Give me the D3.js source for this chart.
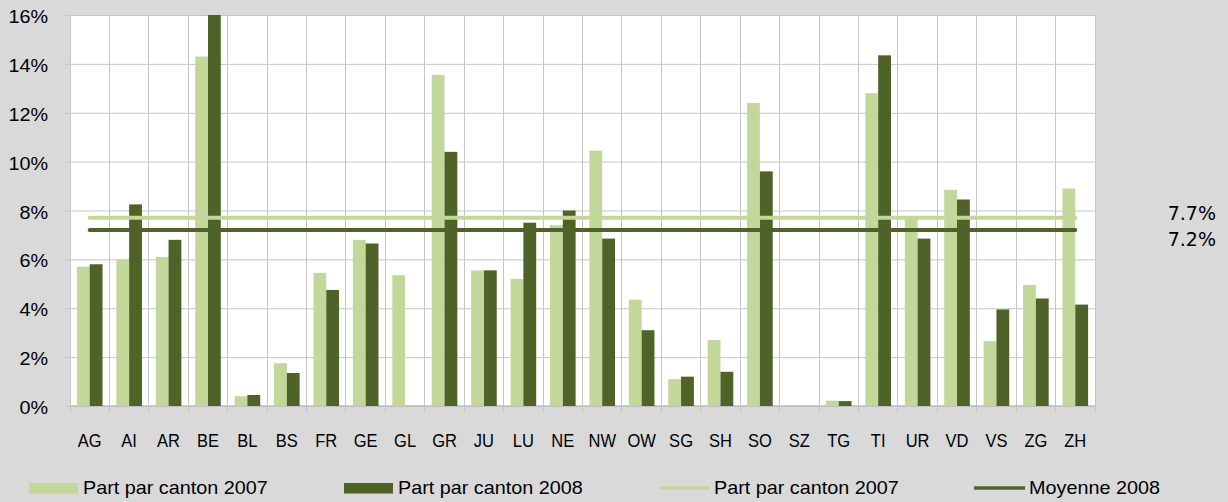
<!DOCTYPE html>
<html>
<head>
<meta charset="utf-8">
<script src="https://cdn.jsdelivr.net/npm/d3@7"></script>
<style>
  html, body { margin: 0; padding: 0; background: #d9d9d9; }
  svg { display: block; }
</style>
</head>
<body>
<svg id="chart" width="1228" height="502"></svg>
<script>
const categories = ["AG","AI","AR","BE","BL","BS","FR","GE","GL","GR","JU","LU","NE","NW","OW","SG","SH","SO","SZ","TG","TI","UR","VD","VS","ZG","ZH"];
const share2007 = [5.7,6.0,6.1,14.3,0.4,1.75,5.45,6.8,5.35,13.55,5.55,5.2,7.4,10.45,4.35,1.1,2.7,12.4,0,0.22,12.8,7.7,8.85,2.65,4.95,8.9];
const share2008 = [5.8,8.25,6.8,16.0,0.45,1.35,4.75,6.65,0,10.4,5.55,7.5,8.0,6.85,3.1,1.2,1.4,9.6,0,0.2,14.35,6.85,8.45,3.95,4.4,4.15];
const mean2007 = 7.7;
const mean2008 = 7.2;
const yTicks = [0,2,4,6,8,10,12,14,16];
const legendLabels = ["Part par canton 2007","Part par canton 2008","Part par canton 2007","Moyenne 2008"];
const meanLabels = ["7.7%","7.2%"];

const C_LIGHT = "#c4d79b", C_DARK = "#4f6228", GRID = "#c6c6c6";
const L = 70, R = 1095, T = 15, B = 406;
const svg = d3.select("#chart");

const x = d3.scaleBand().domain(categories).range([L, R]).paddingInner(0.35).paddingOuter(0.175);
const y = d3.scaleLinear().domain([0, 16]).range([B, T]);
const bw = x.bandwidth();
const step = x.step();

// plot background
svg.append("rect").attr("x", L).attr("y", T).attr("width", R - L).attr("height", B - T).attr("fill", "#fff");

// horizontal gridlines + y labels via axis
const yAxis = svg.append("g").attr("transform", `translate(${L},0)`)
  .call(d3.axisLeft(y).tickValues(yTicks).tickSize(-(R - L)).tickFormat(d => d + "%"));
yAxis.select(".domain").remove();
yAxis.selectAll("line").attr("x1", -5).attr("stroke", GRID).attr("stroke-width", 1);
yAxis.selectAll("text")
  .attr("x", 0).attr("dy", null).attr("dominant-baseline", null)
  .attr("transform", "translate(-22,7.5) scale(1.1,1)")
  .attr("text-anchor", "end")
  .style("font-family", "'Liberation Sans', Arial, sans-serif")
  .style("font-size", "18px").attr("fill", "#000");

// vertical gridlines at category boundaries (with ticks below axis)
const bounds = categories.map(c => x(c) + bw / 2 - step / 2).concat([x(categories[categories.length - 1]) + bw / 2 + step / 2]);
svg.append("g").selectAll("line").data(bounds).join("line")
  .attr("x1", d => d).attr("x2", d => d).attr("y1", T).attr("y2", B + 7)
  .attr("stroke", GRID).attr("stroke-width", 1).attr("shape-rendering", "crispEdges");
// top and baseline
svg.append("line").attr("x1", L).attr("x2", R).attr("y1", B).attr("y2", B).attr("stroke", "#bdbdbd").attr("stroke-width", 1.5);

// bars
const g = svg.append("g");
g.selectAll("rect.b07").data(categories).join("rect").attr("class", "b07")
  .attr("x", c => x(c)).attr("width", bw / 2)
  .attr("y", (c, i) => y(share2007[i])).attr("height", (c, i) => B - y(share2007[i]))
  .attr("fill", C_LIGHT);
g.selectAll("rect.b08").data(categories).join("rect").attr("class", "b08")
  .attr("x", c => x(c) + bw / 2).attr("width", bw / 2)
  .attr("y", (c, i) => y(share2008[i])).attr("height", (c, i) => B - y(share2008[i]))
  .attr("fill", C_DARK);

// mean lines
const x0 = x(categories[0]) + bw / 2, x1 = x(categories[categories.length - 1]) + bw / 2;
svg.append("line").attr("x1", x0).attr("x2", x1).attr("y1", y(mean2007)).attr("y2", y(mean2007))
  .attr("stroke", C_LIGHT).attr("stroke-width", 4).attr("stroke-linecap", "round");
svg.append("line").attr("x1", x0).attr("x2", x1).attr("y1", y(mean2008)).attr("y2", y(mean2008))
  .attr("stroke", C_DARK).attr("stroke-width", 4).attr("stroke-linecap", "round");

// category labels
svg.append("g").selectAll("text").data(categories).join("text")
  .attr("transform", c => `translate(${x(c) + bw / 2},447) scale(0.87,1)`)
  .attr("text-anchor", "middle")
  .style("font-family", "'Liberation Sans', Arial, sans-serif").style("font-size", "19px")
  .attr("fill", "#000").text(c => c);

// mean value labels
svg.append("g").selectAll("text").data(meanLabels).join("text")
  .attr("x", 1216).attr("y", (d, i) => [220, 246][i])
  .attr("text-anchor", "end")
  .style("font-family", "'DejaVu Sans', sans-serif").style("font-size", "19px")
  .attr("fill", "#000").text(d => d);

// legend
const lg = svg.append("g").style("font-family", "'Liberation Sans', Arial, sans-serif").style("font-size", "18px");
const legendItems = [
  {type: "rect", color: C_LIGHT, x: 29, tx: 83},
  {type: "rect", color: C_DARK, x: 344, tx: 398},
  {type: "line", color: C_LIGHT, x: 659, tx: 714},
  {type: "line", color: C_DARK, x: 974, tx: 1029}
];
legendItems.forEach((it, i) => {
  if (it.type === "rect") {
    lg.append("rect").attr("x", it.x).attr("y", 483).attr("width", 49).attr("height", 10.5).attr("fill", it.color);
  } else {
    lg.append("line").attr("x1", it.x).attr("x2", it.x + 51).attr("y1", 488).attr("y2", 488)
      .attr("stroke", it.color).attr("stroke-width", 3.5);
  }
  lg.append("text").attr("transform", `translate(${it.tx},493.5) scale(1.1,1)`)
    .attr("fill", "#000").text(legendLabels[i]);
});
</script>
</body>
</html>
